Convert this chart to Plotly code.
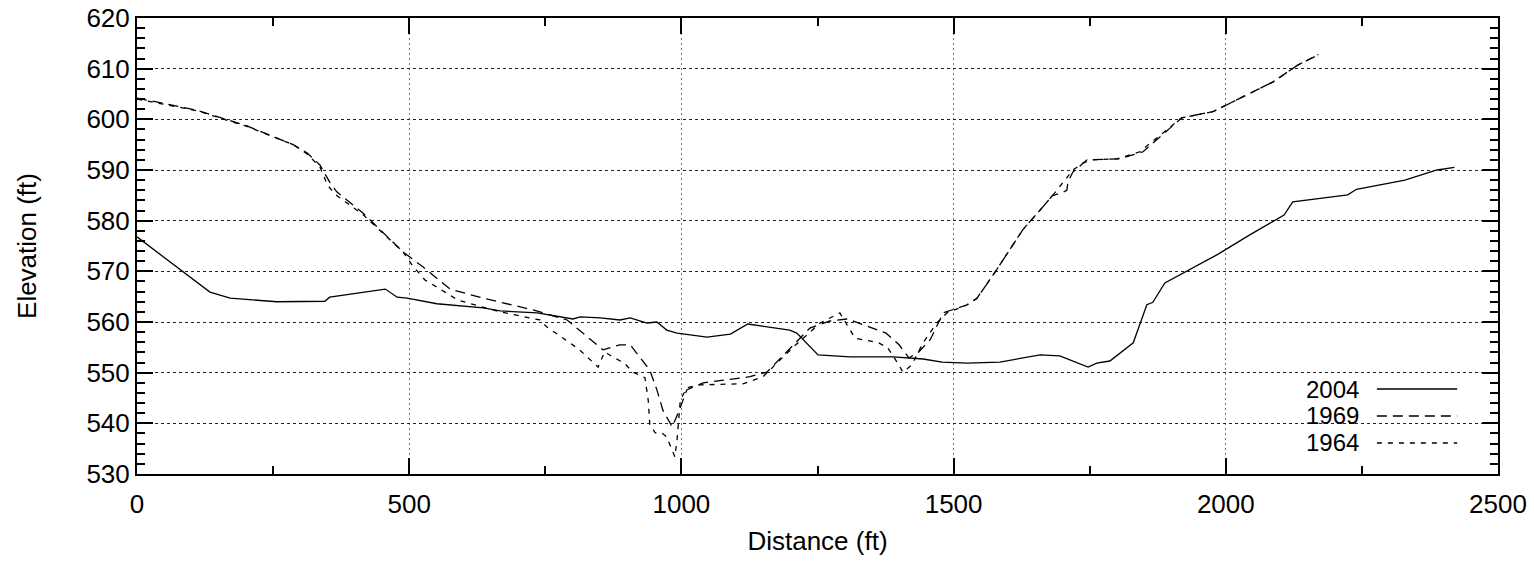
import plotly.graph_objects as go

# ---- data ----
x2004 = [0, 97, 134, 171, 257, 345, 354, 456, 478, 496, 551, 636, 667, 735, 771, 801, 814, 851, 887, 906,
         937, 955, 973, 992, 1047, 1090, 1122, 1157, 1199, 1212, 1236, 1251, 1310, 1389, 1444, 1479, 1525,
         1585, 1659, 1695, 1747, 1763, 1787, 1830, 1855, 1866, 1888, 1986, 2044, 2107, 2123, 2136, 2224,
         2240, 2329, 2388, 2420]
y2004 = [576.8, 568.9, 565.9, 564.7, 564.0, 564.1, 564.9, 566.5, 564.9, 564.7, 563.6, 562.8, 562.2, 561.8,
         561.2, 560.6, 561.0, 560.8, 560.4, 560.8, 559.8, 560.0, 558.4, 557.8, 557.0, 557.6, 559.6, 559.0,
         558.4, 557.8, 555.1, 553.5, 553.1, 553.1, 552.7, 552.1, 551.9, 552.1, 553.5, 553.3, 551.1, 551.9,
         552.3, 555.9, 563.4, 563.9, 567.7, 573.4, 577.2, 581.1, 583.7, 583.9, 585.1, 586.2, 588.0, 590.0,
         590.5]

x1969 = [0, 110, 202, 287, 312, 336, 354, 367, 415, 489, 525, 575, 636, 727, 790, 813, 856, 887, 906, 942,
         955, 966, 983, 994, 1010, 1040, 1084, 1126, 1157, 1205, 1236, 1273, 1305, 1376, 1400, 1418, 1436,
         1457, 1481, 1525, 1543, 1579, 1627, 1659, 1681, 1699, 1708, 1710, 1719, 1745, 1805, 1848, 1919,
         1976, 2013, 2087, 2132, 2168]
y1969 = [604.2, 601.8, 598.7, 595.0, 593.4, 591.0, 587.6, 585.7, 581.5, 573.8, 570.9, 566.5, 564.7, 562.4,
         560.4, 558.4, 554.5, 555.5, 555.5, 550.5, 546.6, 542.6, 539.3, 542.0, 546.6, 548.0, 548.6, 549.2,
         550.1, 555.5, 558.8, 560.2, 560.6, 557.8, 555.5, 552.9, 554.1, 556.5, 561.8, 563.4, 564.7, 570.3,
         578.2, 582.1, 584.9, 585.5, 586.0, 587.6, 589.6, 592.0, 592.2, 593.6, 600.3, 601.5, 603.5, 607.4,
         610.7, 612.6]

x1964 = [0, 110, 202, 287, 312, 336, 350, 364, 415, 489, 507, 529, 590, 667, 740, 753, 795, 813, 847, 859,
         874, 895, 911, 933, 939, 942, 952, 964, 973, 988, 992, 998, 1010, 1034, 1113, 1150, 1205, 1255,
         1291, 1319, 1362, 1379, 1396, 1407, 1423, 1444, 1469, 1488, 1525, 1543, 1579, 1627, 1659, 1686,
         1719, 1738, 1756, 1800, 1842, 1919, 1976, 2013, 2087, 2132, 2170]
y1964 = [604.0, 601.7, 598.6, 595.0, 593.2, 590.6, 587.0, 585.2, 581.2, 573.8, 571.0, 568.3, 564.3, 562.0,
         560.4, 559.0, 555.9, 554.5, 551.1, 554.1, 553.1, 551.9, 550.1, 549.0, 544.6, 539.7, 538.1, 538.1,
         537.3, 533.4, 536.7, 544.6, 547.0, 547.6, 547.8, 549.2, 555.0, 559.8, 561.8, 556.8, 555.9, 554.9,
         552.1, 550.1, 551.5, 555.9, 559.8, 561.8, 563.4, 564.7, 570.3, 578.2, 582.1, 585.5, 590.0, 591.4,
         592.0, 592.2, 593.6, 600.3, 601.5, 603.5, 607.4, 610.7, 612.8]

series_names = ["2004", "1969", "1964"]
series_dash = ["solid", "10px,6px", "5px,6px"]

FONT = "Liberation Sans, Arial, sans-serif"
FS = 26

fig = go.Figure()
for name, xs, ys, dash in zip(series_names, [x2004, x1969, x1964], [y2004, y1969, y1964], series_dash):
    fig.add_trace(go.Scatter(x=xs, y=ys, mode="lines", name=name, showlegend=False,
                             line=dict(color="black", width=1.3, dash=dash)))

# gnuplot-style key: label to the left of the line sample
key_y = [0.1864, 0.1272, 0.068]
for name, dash, ky in zip(series_names, series_dash, key_y):
    fig.add_annotation(x=0.8986, y=ky, xref="paper", yref="paper", text=name, showarrow=False,
                       xanchor="right", yanchor="middle", borderpad=0,
                       font=dict(family=FONT, size=24, color="black"))
    fig.add_shape(type="line", xref="paper", yref="paper", x0=0.911, x1=0.970, y0=ky, y1=ky,
                  line=dict(color="black", width=1.3, dash=dash))

common = dict(showline=True, linecolor="black", linewidth=2, mirror="allticks",
              ticks="inside", ticklen=16, tickwidth=2, tickcolor="black",
              tickfont=dict(family=FONT, size=FS, color="black"),
              zeroline=False, showgrid=True, gridwidth=1, automargin=False)

fig.update_xaxes(range=[0, 2500], dtick=500, tick0=0, gridcolor="#777", griddash="2px,3px",
                 minor=dict(ticks="inside", ticklen=8, tickwidth=2, tickcolor="black", dtick=250, showgrid=False),
                 title=dict(text="Distance (ft)", font=dict(family=FONT, size=FS, color="black"), standoff=14),
                 ticklabelstandoff=6, **common)
fig.update_yaxes(range=[530, 620], dtick=10, tick0=530, gridcolor="#222", griddash="3px,3px",
                 minor=dict(ticks="inside", ticklen=8, tickwidth=2, tickcolor="black", dtick=2, showgrid=False),
                 title=dict(text="Elevation (ft)", font=dict(family=FONT, size=FS, color="black"), standoff=42),
                 **common)

fig.update_layout(
    template="none",
    width=1534, height=561,
    margin=dict(l=137, r=36, t=18, b=87),
    paper_bgcolor="white", plot_bgcolor="white",
    font=dict(family=FONT, size=FS, color="black"),
)

fig.write_html("out.html")
